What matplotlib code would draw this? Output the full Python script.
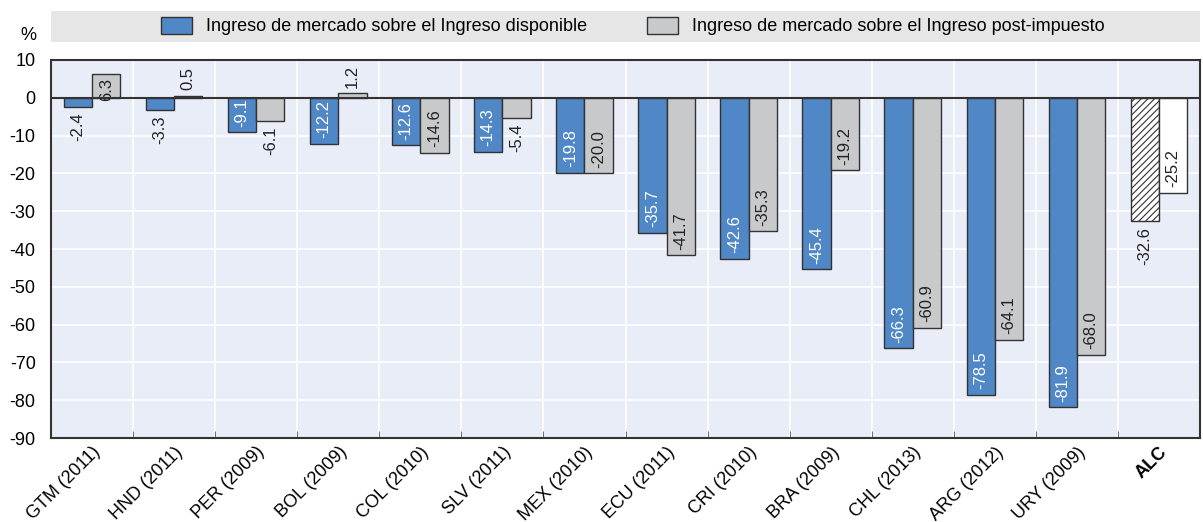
"""Ingreso de mercado vs ingreso disponible / post-impuesto, ALC."""
import matplotlib

matplotlib.use("Agg")
import matplotlib.pyplot as plt
import numpy as np
from matplotlib.patches import Patch, Rectangle

FONT = ["Liberation Sans Narrow", "Liberation Sans", "DejaVu Sans"]
plt.rcParams["font.family"] = FONT
plt.rcParams["hatch.linewidth"] = 0.8

categories = ["GTM (2011)", "HND (2011)", "PER (2009)", "BOL (2009)", "COL (2010)",
              "SLV (2011)", "MEX (2010)", "ECU (2011)", "CRI (2010)", "BRA (2009)",
              "CHL (2013)", "ARG (2012)", "URY (2009)", "ALC"]
disponible = [-2.4, -3.3, -9.1, -12.2, -12.6, -14.3, -19.8, -35.7, -42.6, -45.4,
              -66.3, -78.5, -81.9, -32.6]
post_impuesto = [6.3, 0.5, -6.1, 1.2, -14.6, -5.4, -20.0, -41.7, -35.3, -19.2,
                 -60.9, -64.1, -68.0, -25.2]
label_1 = "Ingreso de mercado sobre el Ingreso disponible"
label_2 = "Ingreso de mercado sobre el Ingreso post-impuesto"

BLUE = "#4f87c7"
GREY = "#c8c9ca"
EDGE = "#333333"

fig = plt.figure(figsize=(12.03, 5.22), dpi=100)
ax = fig.add_axes([51 / 1203, 1 - 438 / 522, 1149 / 1203, 378 / 522])
ax.set_facecolor("#e9edf7")

x = np.arange(len(categories))
w = 0.345
n = len(categories)
last = n - 1

for i in range(n):
    alc = i == last
    ax.bar(x[i] - w / 2, disponible[i], w, color="white" if alc else BLUE,
           edgecolor=EDGE, linewidth=1.0, hatch="/////" if alc else None, zorder=3)
    ax.bar(x[i] + w / 2, post_impuesto[i], w, color="white" if alc else GREY,
           edgecolor=EDGE, linewidth=1.0, zorder=3)

    for xc, v, kind in [(x[i] - w / 2, disponible[i], "b"), (x[i] + w / 2, post_impuesto[i], "g")]:
        txt = f"{v:.1f}"
        inside = (abs(v) > 9 or v > 6) and not (alc and kind == "b")
        col = "white" if (kind == "b" and not alc) else "#222222"
        if v >= 0 and inside:
            ax.text(xc, v - 1.0, txt, rotation=90, ha="center", va="top",
                    fontsize=12, color=col, zorder=4)
        elif v >= 0:
            ax.text(xc, v + 1.5, txt, rotation=90, ha="center", va="bottom",
                    fontsize=12, color="#222222", zorder=4)
        elif inside:
            ax.text(xc, v + 1.5, txt, rotation=90, ha="center", va="bottom",
                    fontsize=12, color=col, zorder=4)
        else:
            ax.text(xc, v - 1.5, txt, rotation=90, ha="center", va="top",
                    fontsize=12, color="#222222", zorder=4)

ax.set_xlim(-0.5, n - 0.5)
ax.set_ylim(-90, 10)
ax.set_yticks(np.arange(-90, 11, 10))
ax.set_yticklabels([str(v) for v in range(-90, 11, 10)], fontsize=13)
ax.tick_params(axis="y", length=0, pad=11)

ax.set_xticks(x)
ax.set_xticklabels(categories, rotation=45, ha="right", rotation_mode="anchor", fontsize=13)
ax.get_xticklabels()[-1].set_fontweight("bold")
ax.tick_params(axis="x", length=0, pad=4)
ax.set_xticks(np.arange(-0.5, n, 1.0), minor=True)
ax.tick_params(axis="x", which="minor", direction="in", length=5, color="#555555")

ax.grid(True, axis="y", color="white", linewidth=1.2, zorder=0)
ax.grid(True, axis="x", which="minor", color="white", linewidth=1.2, zorder=0)
ax.set_axisbelow(True)
ax.axhline(0, color=EDGE, linewidth=1.5, zorder=5)
for s in ax.spines.values():
    s.set_color(EDGE)
    s.set_linewidth(1.5)

ax.text(-0.02, 1.066, "%", transform=ax.transAxes, ha="center", va="center", fontsize=13)

# grey legend band across the top
fig.patches.append(Rectangle((51 / 1203, 1 - 42 / 522), 1149 / 1203, 31 / 522,
                             transform=fig.transFigure, facecolor="#e6e6e7",
                             edgecolor="none", zorder=0))
handles = [Patch(facecolor=BLUE, edgecolor=EDGE, label=label_1),
           Patch(facecolor=GREY, edgecolor=EDGE, label=label_2)]
fig.legend(handles=handles, loc="center", bbox_to_anchor=(0.526, 1 - 26 / 522), ncol=2,
           frameon=False, fontsize=13, handlelength=1.7, handleheight=1.1,
           columnspacing=3.3, handletextpad=0.8)

fig.savefig("out.png", dpi=100)
